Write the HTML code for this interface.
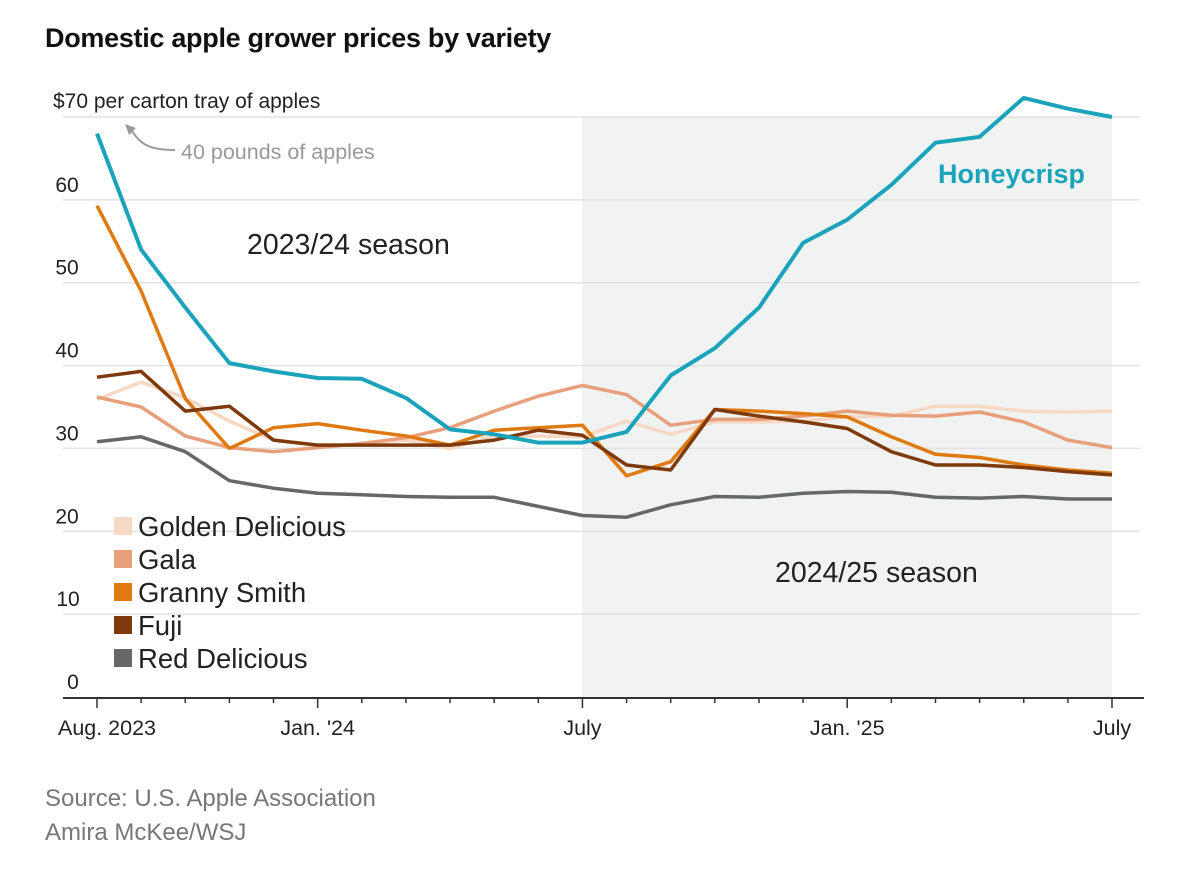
<!DOCTYPE html>
<html><head><meta charset="utf-8">
<style>
body{margin:0;background:#fff;width:1179px;height:870px;overflow:hidden;font-family:"Liberation Sans",sans-serif;}
svg{display:block}
</style></head>
<body>
<svg width="1179" height="870" id="chart">
<text x="45" y="47" font-size="27" font-weight="bold" fill="#111" style="letter-spacing:-0.3px">Domestic apple grower prices by variety</text>
<rect x="582" y="117" width="530" height="580" fill="#f1f3f2"/>
<g id="grid"></g>
<g id="lines"></g>
<g id="axis"></g>
<text x="53" y="108" font-size="21" fill="#222">$70 per carton tray of apples</text>
<path d="M175,150 C150,150 140,145 130,128" fill="none" stroke="#999" stroke-width="2"/>
<path d="M125,124 L136,128 L129,135 Z" fill="#999"/>
<text x="181" y="159" font-size="21.5" fill="#999">40 pounds of apples</text>
<text x="247" y="254" font-size="28.5" fill="#222">2023/24 season</text>
<text x="775" y="582" font-size="28.5" fill="#222">2024/25 season</text>
<text x="938" y="183" font-size="27" font-weight="bold" fill="#1ba3bb">Honeycrisp</text>
<g id="legend"></g>
<text x="45" y="806" font-size="24" fill="#777">Source: U.S. Apple Association</text>
<text x="45" y="840" font-size="24" fill="#777">Amira McKee/WSJ</text>
</svg>
<script>
const months = ["Aug. 2023","","","","","Jan. '24","","","","","","July","","","","","","Jan. '25","","","","","","July"];
const yTicks = [0,10,20,30,40,50,60];
const seriesNames = ["Golden Delicious","Gala","Granny Smith","Fuji","Red Delicious","Honeycrisp"];
const goldenDelicious = [35.9,38,36.1,33.3,31,30.4,30.5,31,30,31.5,31.5,31.4,33.3,31.7,33.2,33.2,33.3,33.8,33.9,35.1,35.1,34.5,34.4,34.5];
const gala = [36.2,35,31.5,30.1,29.6,30.1,30.6,31.3,32.5,34.5,36.3,37.6,36.5,32.8,33.5,33.5,33.9,34.5,34,33.9,34.4,33.2,31,30.1];
const grannySmith = [59.3,49,36,30,32.5,33,32.2,31.5,30.4,32.2,32.5,32.8,26.7,28.4,34.7,34.5,34.2,33.8,31.4,29.3,28.9,28,27.4,27];
const fuji = [38.6,39.3,34.5,35.1,31,30.4,30.4,30.4,30.4,31,32.2,31.6,28,27.4,34.7,33.9,33.2,32.4,29.6,28,28,27.7,27.2,26.8];
const redDelicious = [30.8,31.4,29.6,26.1,25.2,24.6,24.4,24.2,24.1,24.1,23,21.9,21.7,23.2,24.2,24.1,24.6,24.8,24.7,24.1,24,24.2,23.9,23.9];
const honeycrisp = [68,54,47,40.3,39.3,38.5,38.4,36.1,32.3,31.7,30.7,30.7,32,38.8,42.1,47,54.8,57.6,61.8,66.9,67.6,72.3,71,70];

const NS="http://www.w3.org/2000/svg";
const x0=97,x1=1112,y0=697,y70=117;
const xs=i=>x0+i*(x1-x0)/(months.length-1);
const ys=v=>y0-v*(y0-y70)/70;
function mk(tag,attrs,parent){const e=document.createElementNS(NS,tag);for(const k in attrs)e.setAttribute(k,attrs[k]);parent.appendChild(e);return e;}
const grid=document.getElementById('grid'),axis=document.getElementById('axis'),lines=document.getElementById('lines'),legend=document.getElementById('legend');
[10,20,30,40,50,60,70].forEach(v=>{
  const l=mk('line',{x1:63,x2:1140,y1:ys(v),y2:ys(v),stroke:'#e2e2e2','stroke-width':1.5},grid);
  
  
});
yTicks.forEach(v=>{
  const t=mk('text',{x:v===0?73:v===10?68:67,y:ys(v)-8,'font-size':21,fill:'#222','text-anchor':'middle'},axis);
  t.textContent=v;
  
  
});
const base=mk('line',{x1:63,x2:1144,y1:y0+1,y2:y0+1,stroke:'#333','stroke-width':2},axis);


months.forEach((m,i)=>{
  const big=m!=="";
  const tk=mk('line',{x1:xs(i),x2:xs(i),y1:y0,y2:y0+(big?11:6),stroke:'#333','stroke-width':1.5},axis);
  
  
  if(big){
    const t=mk('text',{x:xs(i)+(i===0?10:0),y:y0+38,'font-size':21.5,fill:'#222','text-anchor':'middle'},axis);
    t.textContent=m;
    
    
  }
});
const data=[goldenDelicious,gala,grannySmith,fuji,redDelicious,honeycrisp];
const colors=["#f6d8c4","#e8a07c","#df7a12","#7e3a0c","#676767","#1ba3bb"];
[4,0,1,2,3,5].forEach(k=>{
  const d=data[k].map((v,i)=>(i?'L':'M')+xs(i).toFixed(1)+','+ys(v).toFixed(1)).join(' ');
  const p=mk('path',{d:d,fill:'none',stroke:colors[k],'stroke-width':k===5?4:3.5,'stroke-linejoin':'round'},lines);
  
  
});
for(let k=0;k<5;k++){
  const y=517+k*33;
  const r=mk('rect',{x:114,y:y,width:18,height:18,fill:colors[k]},legend);
  
  
  const t=mk('text',{x:138,y:y+19,'font-size':27.5,fill:'#222'},legend);
  t.textContent=seriesNames[k];
  
  
}
</script>
</body></html>
